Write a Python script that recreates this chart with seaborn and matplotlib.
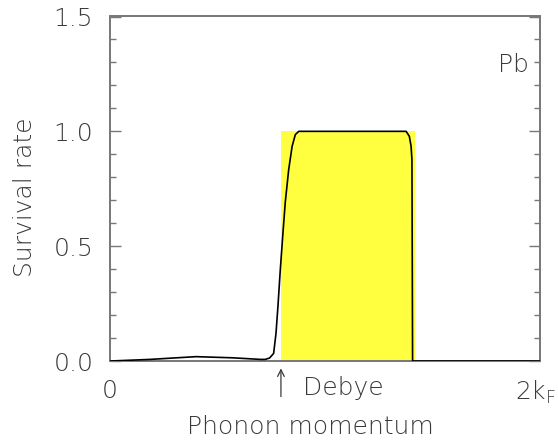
import matplotlib
matplotlib.use("Agg")
import matplotlib.pyplot as plt
from matplotlib.ticker import MultipleLocator
from matplotlib.transforms import ScaledTranslation
import seaborn as sns
import pandas as pd

# Phonon momentum in units of k_F (axis runs 0 .. 2k_F)
momentum = [0.0, 0.186, 0.40, 0.57, 0.70, 0.722, 0.742, 0.761, 0.772, 0.781,
            0.792, 0.803, 0.815, 0.831, 0.847, 0.862, 0.878, 1.377, 1.392,
            1.400, 1.404, 1.407, 2.0]
survival = [0.0, 0.007, 0.019, 0.014, 0.007, 0.007, 0.013, 0.033, 0.12, 0.237,
            0.397, 0.54, 0.69, 0.833, 0.935, 0.986, 1.0, 1.0, 0.978,
            0.935, 0.877, 0.0, 0.0]

debye_band = [0.795, 1.419]   # momentum window shaded in yellow
band_height = 1.0
x_ticks = [0.0, 2.0]
x_ticklabels = ["0", "2k$_\\mathregular{F}$"]
y_ticks = [0.0, 0.5, 1.0, 1.5]
element = "Pb"

sns.set_theme(style="white")
plt.rcParams["font.family"] = ["DejaVu Sans"]
plt.rcParams["font.weight"] = "light"
plt.rcParams["axes.labelweight"] = "light"
plt.rcParams["mathtext.default"] = "regular"

text_color = "#3a3a3a"
axis_color = "#777777"
fs = 18

fig = plt.figure(figsize=(5.58, 4.40), dpi=100)
ax = fig.add_axes([0.197, 0.1795, 0.771, 0.783])

df = pd.DataFrame({"momentum": momentum, "survival": survival})

ax.axvspan(debye_band[0], debye_band[1], ymin=0, ymax=band_height / 1.5,
           color="#ffff40", lw=0, zorder=1)
sns.lineplot(data=df, x="momentum", y="survival", ax=ax, color="black",
             lw=1.2, zorder=3, estimator=None, sort=False)

ax.set_xlim(0, 2.0)
ax.set_ylim(0, 1.5)

for side in ["left", "right", "top", "bottom"]:
    ax.spines[side].set_color(axis_color)
    ax.spines[side].set_linewidth(1.4)

ax.set_yticks(y_ticks)
ax.set_yticklabels([f"{v:.1f}" for v in y_ticks])
ax.yaxis.set_minor_locator(MultipleLocator(0.1))
ax.tick_params(axis="y", which="major", direction="in", length=8, width=1.0,
               color=axis_color, left=True, right=True, pad=12,
               labelsize=fs, labelcolor=text_color)
ax.tick_params(axis="y", which="minor", direction="in", length=4, width=1.0,
               color=axis_color, left=True, right=True)

ax.set_xticks(x_ticks)
ax.set_xticklabels(x_ticklabels)
ax.tick_params(axis="x", which="major", length=0, pad=13,
               labelsize=fs, labelcolor=text_color)
# keep the 2k_F label inside the canvas
last = ax.get_xticklabels()[-1]
last.set_transform(last.get_transform()
                   + ScaledTranslation(-0.05, 0, fig.dpi_scale_trans))

ax.set_xlabel("Phonon momentum", fontsize=fs, color=text_color, labelpad=6,
              fontweight="light")
ax.set_ylabel("Survival rate", fontsize=fs, color=text_color, labelpad=12,
              fontweight="light")
ax.xaxis.label.set_x(0.465)
ax.yaxis.label.set_y(0.475)

# Debye momentum marker below the axis
ax.annotate("", xy=(debye_band[0], -0.02), xytext=(debye_band[0], -0.167),
            xycoords="data", textcoords="data", annotation_clip=False,
            arrowprops=dict(arrowstyle="->", color=text_color, lw=0.9))
ax.text(debye_band[0] + 0.102, -0.118, "Debye", fontsize=fs, color=text_color,
        ha="left", va="center", clip_on=False)

ax.text(1.874, 1.29, element, fontsize=fs, color=text_color,
        ha="center", va="center")

fig.savefig("out.png", dpi=100)
